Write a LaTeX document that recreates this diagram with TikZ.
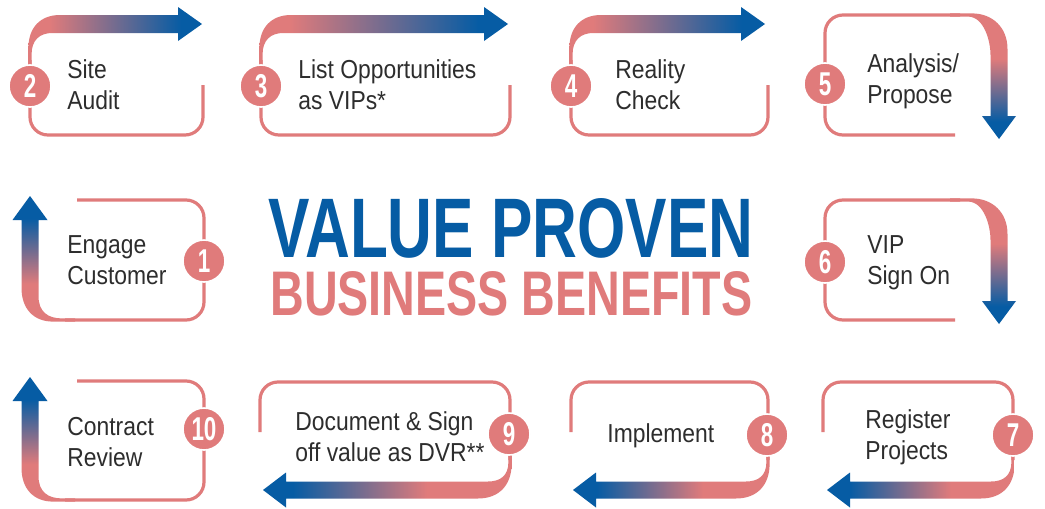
\documentclass[tikz,border=0pt]{standalone}
\usepackage{fontspec}
\usepackage{graphicx}
\setmainfont{Liberation Sans}[FakeStretch=0.88]
\newfontfamily\VPtitlefont{Liberation Sans}[FakeStretch=0.8]
\newfontfamily\VPnumfont{Liberation Sans}[FakeStretch=0.68]
\definecolor{VPpink}{RGB}{224,123,123}
\definecolor{VPblue}{RGB}{6,92,164}
\definecolor{VPtext}{RGB}{45,45,45}
\pgfdeclarehorizontalshading{VPshRight}{100bp}{color(0bp)=(VPpink); color(25bp)=(VPpink); color(31bp)=(VPpink); color(69bp)=(VPblue); color(100bp)=(VPblue)}
\pgfdeclarehorizontalshading{VPshLeft}{100bp}{color(0bp)=(VPblue); color(25bp)=(VPblue); color(31bp)=(VPblue); color(58bp)=(VPpink); color(100bp)=(VPpink)}
\pgfdeclareverticalshading{VPshDown}{100bp}{color(0bp)=(VPblue); color(25bp)=(VPblue); color(32bp)=(VPblue); color(57bp)=(VPpink); color(100bp)=(VPpink)}
\pgfdeclareverticalshading{VPshUp}{100bp}{color(0bp)=(VPpink); color(25bp)=(VPpink); color(40bp)=(VPpink); color(66bp)=(VPblue); color(100bp)=(VPblue)}
\newcommand{\VPtwo}[2]{\vtop{\baselineskip=15.5pt\hbox{#1}\hbox{#2}}}
% top row: arrow along the top, pointing right
\newcommand{\VPtopbox}[3]{%
  \draw[thinline] (#1,60) -- (#1,135) -- (#2,135) -- (#2,85);
  \shade[shading=VPshRight] (#1-1.6,64) -- (#1-1.6,48) .. controls (#1-1.6,28) and (#1+10,15) .. (#1+30,15) -- (#3-24,15) -- (#3-24,7) -- (#3,24) -- (#3-24,41) -- (#3-24,33) -- (#1+22,33) .. controls (#1+10,33) and (#1+1.6,40) .. (#1+1.6,54) -- (#1+1.6,64) -- cycle;
}
% right column: arrow along the right side, pointing down
\newcommand{\VPdownbox}[2]{%
  \draw[thinline] (955,#2) -- (825,#2) -- (825,#1) -- (960,#1);
  \shade[shading=VPshDown] (950,#1-1.6) -- (972,#1-1.6) .. controls (992,#1-1.6) and (1007.5,#1+12) .. (1007.5,#1+34) -- (1007.5,#2-19) -- (1016,#2-19) -- (999,#2+4) -- (982,#2-19) -- (990.5,#2-19) -- (990.5,#1+40) .. controls (990.5,#1+26) and (984,#1+1.6) .. (968,#1+1.6) -- (950,#1+1.6) -- cycle;
}
% left column: arrow along the left side, pointing up
\newcommand{\VPupbox}[2]{%
  \draw[thinline] (77,#1) -- (204,#1) -- (204,#2) -- (65,#2);
  \shade[shading=VPshUp] (21.5,#1+20) -- (21.5,#2-32) .. controls (21.5,#2-12) and (33,#2+1.6) .. (53,#2+1.6) -- (75,#2+1.6) -- (75,#2-1.6) -- (62,#2-1.6) .. controls (48,#2-1.6) and (38.5,#2-8) .. (38.5,#2-24) -- (38.5,#1+20) -- (47.5,#1+20) -- (30,#1-4) -- (12.5,#1+20) -- cycle;
}
% bottom row: arrow along the bottom, pointing left
\newcommand{\VPleftbox}[3]{%
  \draw[thinline] (#1,432) -- (#1,382) -- (#2,382) -- (#2,460);
  \shade[shading=VPshLeft] (#2-1.6,452) -- (#2+1.6,452) -- (#2+1.6,464) .. controls (#2+1.6,484) and (#2-10,498.5) .. (#2-32,498.5) -- (#3+23,498.5) -- (#3+23,507.5) -- (#3,490) -- (#3+23,472.5) -- (#3+23,481.5) -- (#2-22,481.5) .. controls (#2-10,481.5) and (#2-1.6,476) .. (#2-1.6,462) -- cycle;
}
\tikzset{
  thinline/.style={draw=VPpink, line width=1.6pt, rounded corners=9pt},
  numc/.style={circle, fill=VPpink, draw=white, line width=0.8pt, minimum size=21pt, inner sep=0pt, text=white, font=\VPnumfont\bfseries\fontsize{16.5pt}{16.5pt}\selectfont},
  lbl/.style={anchor=base west, inner sep=0pt, text=VPtext, font=\fontsize{13pt}{15.5pt}\selectfont},
  ttl/.style={anchor=base west, inner sep=0pt}
}
\begin{document}
\begin{tikzpicture}[x=0.5pt,y=-0.5pt]
\useasboundingbox[fill=white] (0,0) rectangle (1045,509);
% boxes and arrows
\VPtopbox{30}{203}{202}
\VPtopbox{261}{510}{508}
\VPtopbox{571}{768}{765}
\VPdownbox{15}{135}
\VPdownbox{200}{320}
\VPupbox{200}{320}
\VPupbox{381}{500}
\VPleftbox{823}{1013}{827}
\VPleftbox{571}{768}{573}
\VPleftbox{260}{510}{263}
% number circles
\node[numc] (n1) at (204,261) {1};
\node[numc] (n2) at (30,86) {2};
\node[numc] (n3) at (261,86) {3};
\node[numc] (n4) at (571,86) {4};
\node[numc] (n5) at (825,84) {5};
\node[numc] (n6) at (825,262) {6};
\node[numc] (n7) at (1013,435) {7};
\node[numc] (n8) at (767,435) {8};
\node[numc] (n9) at (509,434) {9};
\node[numc] (n10) at (204,429) {10};
% labels
\node[lbl] (l1) at (67,253) {\VPtwo{Engage}{Customer}};
\node[lbl] (l2) at (67,78) {\VPtwo{Site}{Audit}};
\node[lbl] (l3) at (298,78) {\VPtwo{List Opportunities}{as VIPs*}};
\node[lbl] (l4) at (615,78) {\VPtwo{Reality}{Check}};
\node[lbl] (l5) at (867,72) {\VPtwo{Analysis/}{Propose}};
\node[lbl] (l6) at (867,253) {\VPtwo{VIP}{Sign On}};
\node[lbl] (l7) at (865,428) {\VPtwo{Register}{Projects}};
\node[lbl] (l8) at (607,442) {Implement};
\node[lbl] (l9) at (295,430) {\VPtwo{Document \& Sign}{off value as DVR**}};
\node[lbl] (l10) at (67,435) {\VPtwo{Contract}{Review}};
% title
\node[ttl, text=VPblue] (t1) at (268,257) {\resizebox{242.5pt}{29.5pt}{\VPtitlefont\bfseries VALUE PROVEN}};
\node[ttl, text=VPpink] (t2) at (270,315) {\resizebox{241pt}{22pt}{\VPtitlefont\bfseries BUSINESS BENEFITS}};
\end{tikzpicture}
\end{document}
